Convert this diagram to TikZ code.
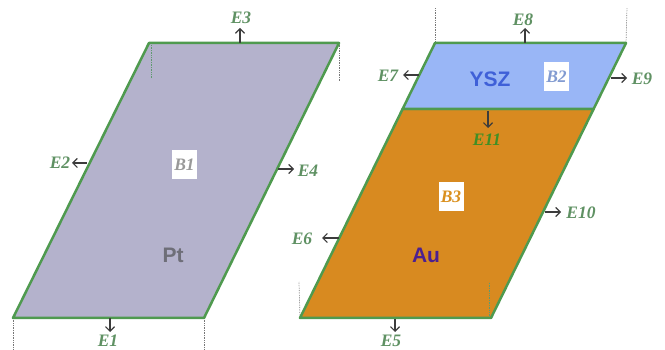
\documentclass[tikz,border=0pt]{standalone}
\usepackage{fontspec}
\setmainfont{Liberation Serif}
\newfontfamily\labelsans{Liberation Sans}
\usetikzlibrary{arrows.meta}
\definecolor{edgegreen}{HTML}{4F9A4F}
\definecolor{elabel}{HTML}{5F9163}
\definecolor{elabelb}{HTML}{3F8F25}
\definecolor{ptfill}{HTML}{B4B2CC}
\definecolor{yszfill}{HTML}{99B6F6}
\definecolor{aufill}{HTML}{D88A20}
\definecolor{pttext}{HTML}{6E6E78}
\definecolor{yszt}{HTML}{3F60D8}
\definecolor{autext}{HTML}{4C2090}
\definecolor{arrowc}{HTML}{3C3C3C}
\definecolor{dashc}{HTML}{777777}
\definecolor{dashg}{HTML}{5F9A70}
\tikzset{
  x=1pt,y=-1pt,
  panel/.style={draw=edgegreen,line width=2.5pt,line join=round},
  elab/.style={font=\fontsize{17.5}{17.5}\selectfont\bfseries\itshape,text=elabel,inner sep=0pt},
  flux/.style={draw=arrowc,line width=1.2pt,-{Straight Barb[length=4.5pt,width=9pt]}},
  guide/.style={draw=dashc,line width=0.7pt,densely dotted},
  guideg/.style={draw=dashg,line width=0.7pt,densely dotted},
  bbox/.style={fill=white,inner sep=0pt,minimum width=25pt,minimum height=29pt,font=\fontsize{17.5}{17.5}\selectfont\bfseries\itshape},
  mat/.style={font=\labelsans\fontsize{21}{21}\selectfont\bfseries,inner sep=0pt}
}
\begin{document}
\begin{tikzpicture}
\useasboundingbox (0,0) rectangle (665,350);
\clip (0,0) rectangle (665,350);
% corners
\coordinate (pa) at (13,318);
\coordinate (pb) at (204,318);
\coordinate (pc) at (339,43);
\coordinate (pd) at (149,43);
\coordinate (aa) at (300,318);
\coordinate (ab) at (491,318);
\coordinate (ac) at (593.6,109);
\coordinate (ad) at (402.6,109);
\coordinate (yc) at (626,43);
\coordinate (yd) at (435,43);
% guides
\draw[guide] (pa) -- (13,350);
\draw[guide] (pb) -- (204,350);
\draw[guide] (yd) -- (435,8);
\draw[guide] (yc) -- (627,8);
\draw[guide] (aa) -- (299,282);
\draw[guide] (pc) -- (339,82);
% panels
\draw[panel,fill=ptfill] (pa) -- (pb) -- (pc) -- (pd) -- cycle;
\draw[panel,fill=aufill] (aa) -- (ab) -- (ac) -- (ad) -- cycle;
\draw[panel,fill=yszfill] (ad) -- (ac) -- (yc) -- (yd) -- cycle;
\draw[guideg] (151,45) -- (151,78);
\draw[guideg] (489,316) -- (489,282);
% materials
\node[mat,text=pttext] (pt) at (173,255) {Pt};
\node[mat,text=yszt] (ysz) at (490,79) {YSZ};
\node[mat,text=autext] (au) at (426,255) {Au};
% boxes
\node[bbox,text=black!40] (b1) at (184.5,165) {B1};
\node[bbox,text=yszfill!85!black] (b2) at (556.5,76.5) {B2};
\node[bbox,text=aufill!95!yellow] (b3) at (451,196.5) {B3};
% labels
\node[elab] (e1) at (108,340.5) {E1};
\node[elab] (e2) at (60,163) {E2};
\node[elab] (e3) at (241,18) {E3};
\node[elab] (e4) at (308,171) {E4};
\node[elab] (e5) at (391,340.5) {E5};
\node[elab] (e6) at (302,239) {E6};
\node[elab] (e7) at (388,76) {E7};
\node[elab] (e8) at (523,20) {E8};
\node[elab] (e9) at (642,79) {E9};
\node[elab] (e10) at (581,213) {E10};
\node[elab,text=elabelb] (e11) at (487,140) {E11};
% free ends of the flux arrows
\coordinate (s1) at (110,318); \coordinate (t1) at (110,332);
\coordinate (s2) at (87,163);  \coordinate (t2) at (72,163);
\coordinate (s3) at (240,43);  \coordinate (t3) at (240,28);
\coordinate (s4) at (278,169); \coordinate (t4) at (294,169);
\coordinate (s5) at (395,319); \coordinate (t5) at (395,332);
\coordinate (s6) at (339,238); \coordinate (t6) at (322,238);
\coordinate (s7) at (419,75);  \coordinate (t7) at (403,75);
\coordinate (s8) at (525,43);  \coordinate (t8) at (525,28);
\coordinate (s9) at (611,78);  \coordinate (t9) at (627,78);
\coordinate (s10) at (545,212);\coordinate (t10) at (561,212);
\coordinate (s11) at (488,111);\coordinate (t11) at (488,128);
\foreach \i in {1,...,11} {\draw[flux] (s\i) -- (t\i);}
\end{tikzpicture}
\end{document}
